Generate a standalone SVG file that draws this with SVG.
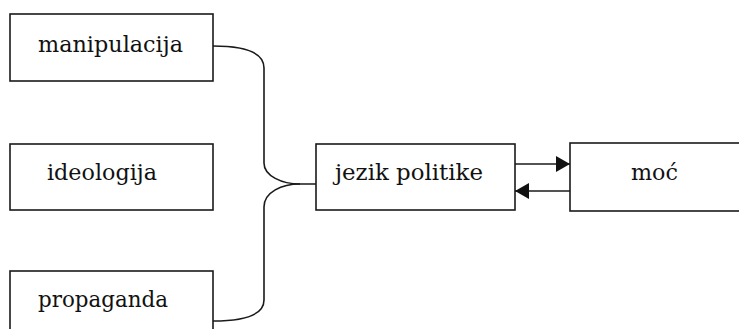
<svg xmlns="http://www.w3.org/2000/svg" width="739" height="329" viewBox="0 0 739 329">
<style>
.box{fill:#fff;stroke:#1a1a1a;stroke-width:1.6}
.lbl{font-family:'DejaVu Serif','Liberation Serif',serif;font-size:23px;fill:#111}
.con{fill:none;stroke:#1a1a1a;stroke-width:1.6}
</style>
<defs>
<marker id="ah" viewBox="0 0 14 16" refX="14" refY="8" markerWidth="14" markerHeight="16" markerUnits="userSpaceOnUse" orient="auto">
<path d="M0,0 L14,8 L0,16 Z" fill="#111"/>
</marker>
</defs>
<rect width="739" height="329" fill="#fff"/>
<g id="connectors">
<path class="con" d="M213,46 C245,46 264,52 264,68 L264,163 C264,176 282,184 300,184 L316,184"/>
<path class="con" d="M213,321 C245,321 264,315 264,300 L264,207 C264,192 282,184 300,184"/>
<line class="con" x1="515" y1="164" x2="570" y2="164" marker-end="url(#ah)"/>
<line class="con" x1="570" y1="191" x2="515" y2="191" marker-end="url(#ah)"/>
</g>
<g id="manipulacija">
<rect class="box" x="10" y="14" width="203" height="67"/>
<text class="lbl" x="38" y="52" textLength="145" lengthAdjust="spacingAndGlyphs">manipulacija</text>
</g>
<g id="ideologija">
<rect class="box" x="10" y="144" width="203" height="66"/>
<text class="lbl" x="47" y="180" textLength="110" lengthAdjust="spacingAndGlyphs">ideologija</text>
</g>
<g id="propaganda">
<rect class="box" x="10" y="271" width="203" height="67"/>
<text class="lbl" x="38" y="307" textLength="130" lengthAdjust="spacingAndGlyphs">propaganda</text>
</g>
<g id="jezik-politike">
<rect class="box" x="316" y="144" width="199" height="66"/>
<text class="lbl" x="335" y="180" textLength="148" lengthAdjust="spacingAndGlyphs">jezik politike</text>
</g>
<g id="moc">
<rect class="box" x="570" y="143" width="180" height="68"/>
<text class="lbl" x="631" y="180" textLength="47" lengthAdjust="spacingAndGlyphs">moć</text>
</g>
</svg>
